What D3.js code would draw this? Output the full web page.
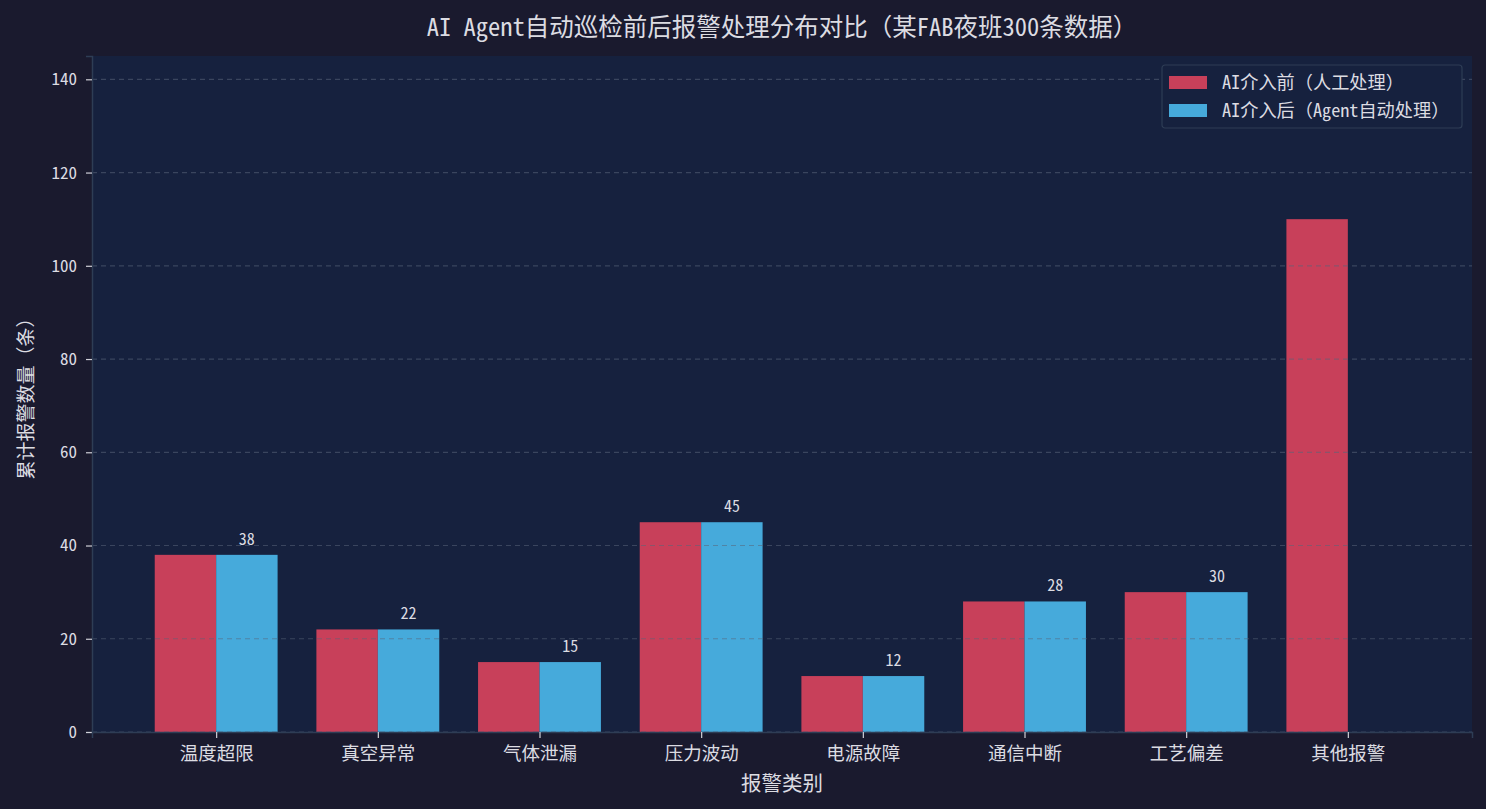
<!DOCTYPE html>
<html>
<head>
<meta charset="utf-8">
<script src="https://cdn.jsdelivr.net/npm/d3@7"></script>
<style>
  body { margin: 0; background: #1a1a2e; }
  text { font-family: "Noto Sans Mono CJK SC", "Noto Sans CJK SC", "DejaVu Sans", sans-serif; }
</style>
</head>
<body>
<div class="chart-wrapper"></div>
<script>
const categories = ['温度超限','真空异常','气体泄漏','压力波动','电源故障','通信中断','工艺偏差','其他报警']
const before = [38, 22, 15, 45, 12, 28, 30, 110]
const after = [38, 22, 15, 45, 12, 28, 30, 0]
const yTicks = [0, 20, 40, 60, 80, 100, 120, 140]
const seriesNames = ['AI介入前（人工处理）', 'AI介入后（Agent自动处理）']

const width = 1486
const height = 809
const margin = {top: 56, right: 14, bottom: 77, left: 92}
const barW = 0.38
const colors = ['#c8405a', '#46aadb']
const textColor = '#dcdce2'

var svg = d3.select('.chart-wrapper').append('svg').attr('width', width).attr('height', height)

svg.append('rect').attr('width', width).attr('height', height).attr('fill', '#1a1a2e')

var xscale = d3.scaleLinear().domain([-0.768, categories.length - 1 + 0.768]).range([margin.left, width - margin.right])
var yscale = d3.scaleLinear().domain([0, 145]).range([height - margin.bottom, margin.top])

svg.append('rect')
    .attr('x', margin.left).attr('y', margin.top)
    .attr('width', width - margin.right - margin.left)
    .attr('height', height - margin.bottom - margin.top)
    .attr('fill', '#16213e')

// bars
var groups = [before, after]
groups.forEach((vals, s) => {
    svg.append('g').selectAll('rect')
        .data(vals)
        .join('rect')
        .attr('x', (d, i) => xscale(i + (s === 0 ? -barW : 0)))
        .attr('width', xscale(barW) - xscale(0))
        .attr('y', d => yscale(d))
        .attr('height', d => yscale(0) - yscale(d))
        .attr('fill', colors[s])
})

// grid drawn over bars, like the source
svg.append('g').selectAll('line')
    .data(yTicks)
    .join('line')
    .attr('x1', margin.left).attr('x2', width - margin.right)
    .attr('y1', d => yscale(d)).attr('y2', d => yscale(d))
    .attr('stroke', '#5a6478').attr('stroke-opacity', 0.55)
    .attr('stroke-width', 1.2).attr('stroke-dasharray', '5,4')

// value labels on the "after" bars
svg.append('g').selectAll('text')
    .data(after.map((v, i) => ({v, i})).filter(d => d.v > 0))
    .join('text')
    .attr('x', d => xscale(d.i + barW / 2))
    .attr('y', d => yscale(d.v) - 10)
    .attr('text-anchor', 'middle')
    .attr('fill', textColor)
    .attr('font-size', 16)
    .text(d => d.v)

// axes
var yaxis = d3.axisLeft(yscale).tickValues(yTicks).tickSize(6).tickPadding(9)
var yg = svg.append('g').attr('transform', `translate(${margin.left},0)`).call(yaxis)
yg.select('.domain').attr('stroke', '#2e3d55').attr('stroke-width', 1.5)
yg.selectAll('.tick line').attr('stroke', '#d0d0d8').attr('stroke-width', 1.2)
yg.selectAll('.tick text').attr('fill', textColor).attr('font-size', 17)

var xaxis = d3.axisBottom(xscale).tickValues(d3.range(categories.length)).tickFormat(i => categories[i]).tickSize(6).tickPadding(9)
var xg = svg.append('g').attr('transform', `translate(0,${height - margin.bottom})`).call(xaxis)
xg.select('.domain').attr('stroke', '#2e3d55').attr('stroke-width', 1.5)
xg.selectAll('.tick line').attr('stroke', '#d0d0d8').attr('stroke-width', 1.2)
xg.selectAll('.tick text').attr('fill', textColor).attr('font-size', 18.5)

// titles
svg.append('text')
    .attr('x', (margin.left + width - margin.right) / 2).attr('y', 36)
    .attr('text-anchor', 'middle').attr('fill', textColor).attr('font-size', 24.5)
    .text('AI Agent自动巡检前后报警处理分布对比（某FAB夜班300条数据）')

svg.append('text')
    .attr('x', (margin.left + width - margin.right) / 2).attr('y', 791)
    .attr('text-anchor', 'middle').attr('fill', textColor).attr('font-size', 20.5)
    .text('报警类别')

svg.append('text')
    .attr('transform', `translate(33,${(margin.top + height - margin.bottom) / 2}) rotate(-90)`)
    .attr('text-anchor', 'middle').attr('fill', textColor).attr('font-size', 19)
    .text('累计报警数量（条）')

// legend
var lg = svg.append('g').attr('transform', 'translate(1162,65)')
lg.append('rect').attr('width', 300).attr('height', 63).attr('rx', 3)
    .attr('fill', '#16213e').attr('stroke', '#2e3d55').attr('stroke-width', 1.2)
seriesNames.forEach((name, i) => {
    lg.append('rect').attr('x', 7).attr('y', 11 + i * 28).attr('width', 38).attr('height', 13).attr('fill', colors[i])
    lg.append('text').attr('x', 60).attr('y', 24 + i * 28)
        .attr('fill', textColor).attr('font-size', 18.2).text(name)
})
</script>
</body>
</html>
